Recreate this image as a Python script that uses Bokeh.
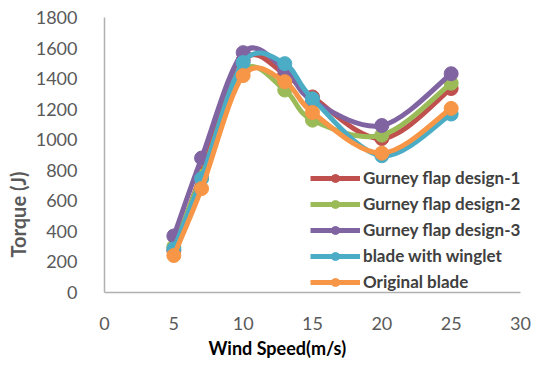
import numpy as np
from bokeh.plotting import figure
from bokeh.models import Legend, LegendItem, Title, ColumnDataSource, FixedTicker, Range1d
from bokeh.embed import file_html
from bokeh.resources import INLINE

wind_speed = [5, 7, 10, 13, 15, 20, 25]
gurney_1 = [275, 780, 1520, 1430, 1280, 1008, 1335]
gurney_2 = [300, 760, 1450, 1325, 1128, 1030, 1370]
gurney_3 = [370, 880, 1570, 1460, 1255, 1093, 1432]
winglet = [285, 745, 1505, 1498, 1268, 895, 1168]
original = [242, 680, 1420, 1380, 1178, 912, 1205]

series_names = ["Gurney flap design-1", "Gurney flap design-2", "Gurney flap design-3",
                "blade with winglet", "Original blade"]
series_values = [gurney_1, gurney_2, gurney_3, winglet, original]
colors = ["#C0504D", "#9BBB59", "#8064A2", "#4BACC6", "#F79646"]

x_ticks = [0, 5, 10, 15, 20, 25, 30]
y_ticks = [0, 200, 400, 600, 800, 1000, 1200, 1400, 1600, 1800]

FONT = "Lato"

p = figure(width=548, height=366, output_backend="svg", toolbar_location=None,
           x_range=Range1d(0, 30), y_range=Range1d(0, 1800),
           min_border_left=104, min_border_right=28, min_border_top=17, min_border_bottom=74)
p.outline_line_color = None
p.grid.grid_line_color = None

for ax in (p.xaxis, p.yaxis):
    ax.axis_line_color = "#B0B0B0"
    ax.axis_line_width = 1.5
    ax.major_tick_line_color = None
    ax.minor_tick_line_color = None
    ax.major_label_text_font = FONT
    ax.major_label_text_font_size = "18px"
    ax.major_label_text_color = "#595959"
p.xaxis.ticker = FixedTicker(ticks=x_ticks)
p.yaxis.ticker = FixedTicker(ticks=y_ticks)
p.xaxis.major_label_standoff = 18
p.yaxis.major_label_standoff = 21


def smooth_segments(xs, ys):
    xs = np.asarray(xs, float)
    ys = np.asarray(ys, float)
    n = len(xs)
    d = dict(x0=[], y0=[], x1=[], y1=[], cx0=[], cy0=[], cx1=[], cy1=[])
    for i in range(n - 1):
        i0 = max(i - 1, 0)
        i3 = min(i + 2, n - 1)
        d["x0"].append(xs[i]); d["y0"].append(ys[i])
        d["x1"].append(xs[i + 1]); d["y1"].append(ys[i + 1])
        d["cx0"].append(xs[i] + (xs[i + 1] - xs[i0]) / 6)
        d["cy0"].append(ys[i] + (ys[i + 1] - ys[i0]) / 6)
        d["cx1"].append(xs[i + 1] - (xs[i3] - xs[i]) / 6)
        d["cy1"].append(ys[i + 1] - (ys[i3] - ys[i]) / 6)
    return ColumnDataSource(d)


items = []
for name, vals, c in zip(series_names, series_values, colors):
    src = smooth_segments(wind_speed, vals)
    b = p.bezier(x0="x0", y0="y0", x1="x1", y1="y1", cx0="cx0", cy0="cy0",
                 cx1="cx1", cy1="cy1", source=src, line_color=c, line_width=5)
    s = p.scatter(wind_speed, vals, size=14, fill_color=c, line_color=c)
    items.append(LegendItem(label=name, renderers=[b, s]))

legend = Legend(items=items, location=(206, 0), padding=0, margin=0,
                glyph_width=50, glyph_height=20, label_height=20, spacing=5,
                label_standoff=3, label_text_font=FONT, label_text_font_size="17px",
                label_text_font_style="bold", label_text_color="#404040",
                background_fill_alpha=0, border_line_color=None)
p.add_layout(legend, "center")

p.add_layout(Title(text="Torque (J)", align="left", offset=35, standoff=6,
                   text_font=FONT, text_font_size="20px", text_font_style="bold",
                   text_color="#595959"), "left")
p.add_layout(Title(text="Wind Speed(m/s)", align="left", offset=104, standoff=5,
                   text_font=FONT, text_font_size="18px", text_font_style="bold",
                   text_color="#000000"), "below")

open("out.html", "w").write(file_html(p, INLINE))
